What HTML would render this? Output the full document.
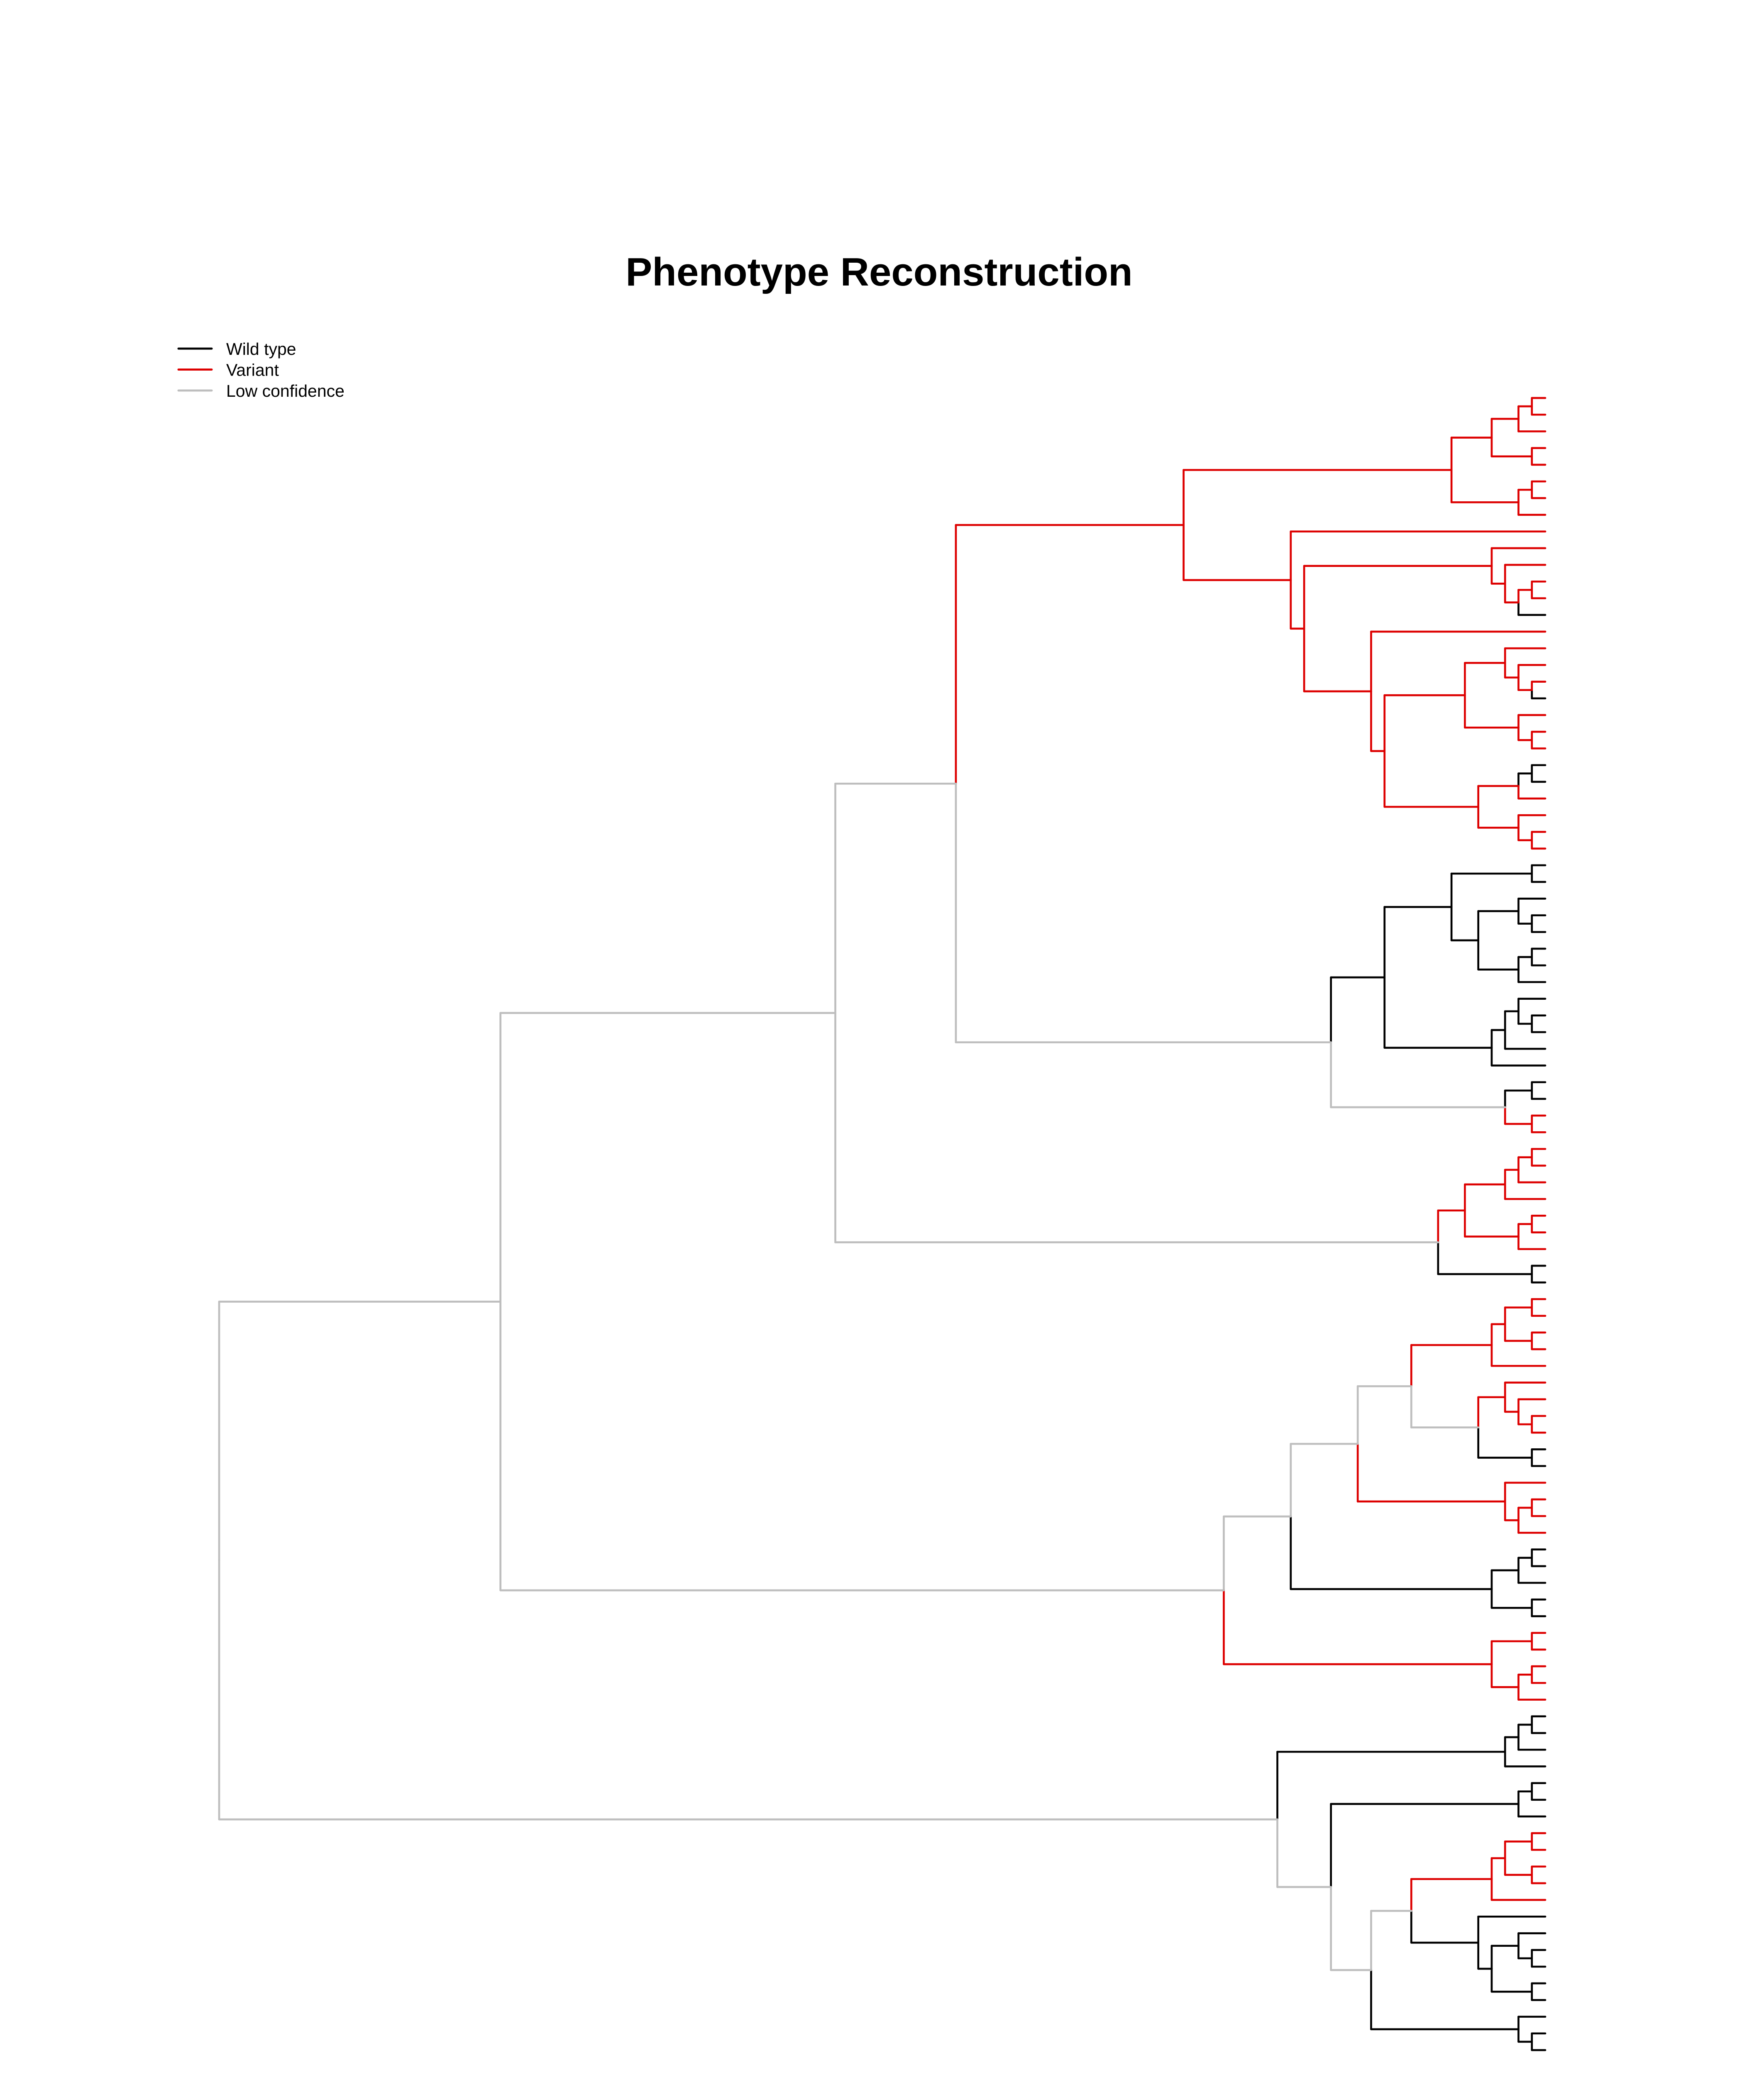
<!DOCTYPE html>
<html>
<head>
<meta charset="utf-8">
<style>
html,body{margin:0;padding:0;background:#fff;overflow:hidden;width:4250px;height:5500px;}
#chart{position:absolute;left:0;top:0;display:block;}
</style>
</head>
<body>
<svg id="chart" width="4250" height="5500" viewBox="0 0 4250 5500" xmlns="http://www.w3.org/2000/svg">
  <rect x="0" y="0" width="4250" height="5500" fill="#ffffff"/>
  <text x="2118" y="688" text-anchor="middle" font-family="Liberation Sans, Arial, sans-serif" font-weight="bold" font-size="96" fill="#000">Phenotype Reconstruction</text>
  <g font-family="Liberation Sans, Arial, sans-serif" font-size="41">
    <g>
      <line x1="430" y1="840" x2="510" y2="840" stroke="#000000" stroke-width="5" stroke-linecap="round"/>
      <text x="545" y="855" fill="#000">Wild type</text>
    </g>
    <g>
      <line x1="430" y1="890.5" x2="510" y2="890.5" stroke="#DD0000" stroke-width="5" stroke-linecap="round"/>
      <text x="545" y="905.5" fill="#000">Variant</text>
    </g>
    <g>
      <line x1="430" y1="941" x2="510" y2="941" stroke="#BEBEBE" stroke-width="5" stroke-linecap="round"/>
      <text x="545" y="956" fill="#000">Low confidence</text>
    </g>
  </g>
  <g id="tree"></g>
</svg>
<script>
// Tree data: internal node = [height, state, child1, child2]; leaf = state
const stateCodes = ['B', 'R', 'G'];
const stateLabels = ['Wild type', 'Variant', 'Low confidence'];
const stateColors = ['#000000', '#DD0000', '#BEBEBE'];
const cladeA = [27,'R',
  [7,'R',
    [4,'R', [2,'R',[1,'R','R','R'],'R'], [1,'R','R','R']],
    [2,'R',[1,'R','R','R'],'R']],
  [19,'R','R',
    [18,'R',
      [4,'R','R',[3,'R','R',[2,'R',[1,'R','R','R'],'B']]],
      [13,'R','R',
        [12,'R',
          [6,'R',
            [3,'R','R',[2,'R','R',[1,'R','R','B']]],
            [2,'R','R',[1,'R','R','R']]],
          [5,'R',
            [2,'R',[1,'B','B','B'],'R'],
            [2,'R','R',[1,'R','R','R']]]]]]]];
const cladeK = [16,'G',
  [12,'B',
    [7,'B',[1,'B','B','B'],
      [5,'B',[2,'B','B',[1,'B','B','B']],[2,'B',[1,'B','B','B'],'B']]],
    [4,'B',[3,'B',[2,'B','B',[1,'B','B','B']],'B'],'B']],
  [3,'G',[1,'B','B','B'],[1,'R','R','R']]];
const cladeN = [8,'G',
  [6,'R',[3,'R',[2,'R',[1,'R','R','R'],'R'],'R'],[2,'R',[1,'R','R','R'],'R']],
  [1,'B','B','B']];
const cladeU = [24,'G',
  [19,'G',
    [14,'G',
      [10,'G',
        [4,'R',[3,'R',[1,'R','R','R'],[1,'R','R','R']],'R'],
        [5,'G',[3,'R','R',[2,'R','R',[1,'R','R','R']]],[1,'B','B','B']]],
      [3,'R','R',[2,'R',[1,'R','R','R'],'R']]],
    [4,'B',[2,'B',[1,'B','B','B'],'B'],[1,'B','B','B']]],
  [4,'R',[1,'R','R','R'],[2,'R',[1,'R','R','R'],'R']]];
const cladeW = [20,'G',
  [3,'B',[2,'B',[1,'B','B','B'],'B'],'B'],
  [16,'G',
    [2,'B',[1,'B','B','B'],'B'],
    [13,'G',
      [10,'G',
        [4,'R',[3,'R',[1,'R','R','R'],[1,'R','R','R']],'R'],
        [5,'B','B',[4,'B',[2,'B','B',[1,'B','B','B']],[1,'B','B','B']]]],
      [2,'B','B',[1,'B','B','B']]]]];
const tree = [99,'G',
  [78,'G',
    [53,'G', [44,'G', cladeA, cladeK], cladeN],
    cladeU],
  cladeW];

// axis functions
const tipX = 3723, rootX = 528, rootH = 99;
const firstY = 959, lastY = 4940, nLeaves = 100;
function xScale(h){ return tipX - h * (tipX - rootX) / rootH; }
function yScale(i){ return firstY + i * (lastY - firstY) / (nLeaves - 1); }
function colorOf(s){ return stateColors[stateCodes.indexOf(s)]; }

const g = document.getElementById('tree');
const NS = 'http://www.w3.org/2000/svg';
let leafCounter = 0;
const verts = [], hors = [];

function layout(node){
  if (typeof node === 'string'){
    const y = yScale(leafCounter++);
    return {x: xScale(0), y: y, s: node, leaf: true};
  }
  const kids = node.slice(2).map(layout);
  const y = (kids[0].y + kids[kids.length-1].y) / 2;
  const x = xScale(node[0]);
  kids.forEach(k => {
    verts.push({x: x, y1: y, y2: k.y, s: k.s});
    hors.push({x1: x, x2: k.x, y: k.y, s: k.s, leaf: k.leaf});
  });
  return {x: x, y: y, s: node[1], leaf: false};
}
const root = layout(tree);

function mk(x1,y1,x2,y2,s,name){
  const l = document.createElementNS(NS,'line');
  l.setAttribute('x1',x1); l.setAttribute('y1',y1);
  l.setAttribute('x2',x2); l.setAttribute('y2',y2);
  l.setAttribute('stroke',colorOf(s));
  l.setAttribute('stroke-width','4.7');
  l.setAttribute('stroke-linecap','round');
  
  
  g.appendChild(l);
}
verts.forEach(v => mk(v.x, v.y1, v.x, v.y2, v.s, 'branch-vertical'));
hors.forEach(h => mk(h.x1, h.y, h.x2, h.y, h.s, h.leaf ? 'tip-branch' : 'branch-horizontal'));
</script>
</body>
</html>
